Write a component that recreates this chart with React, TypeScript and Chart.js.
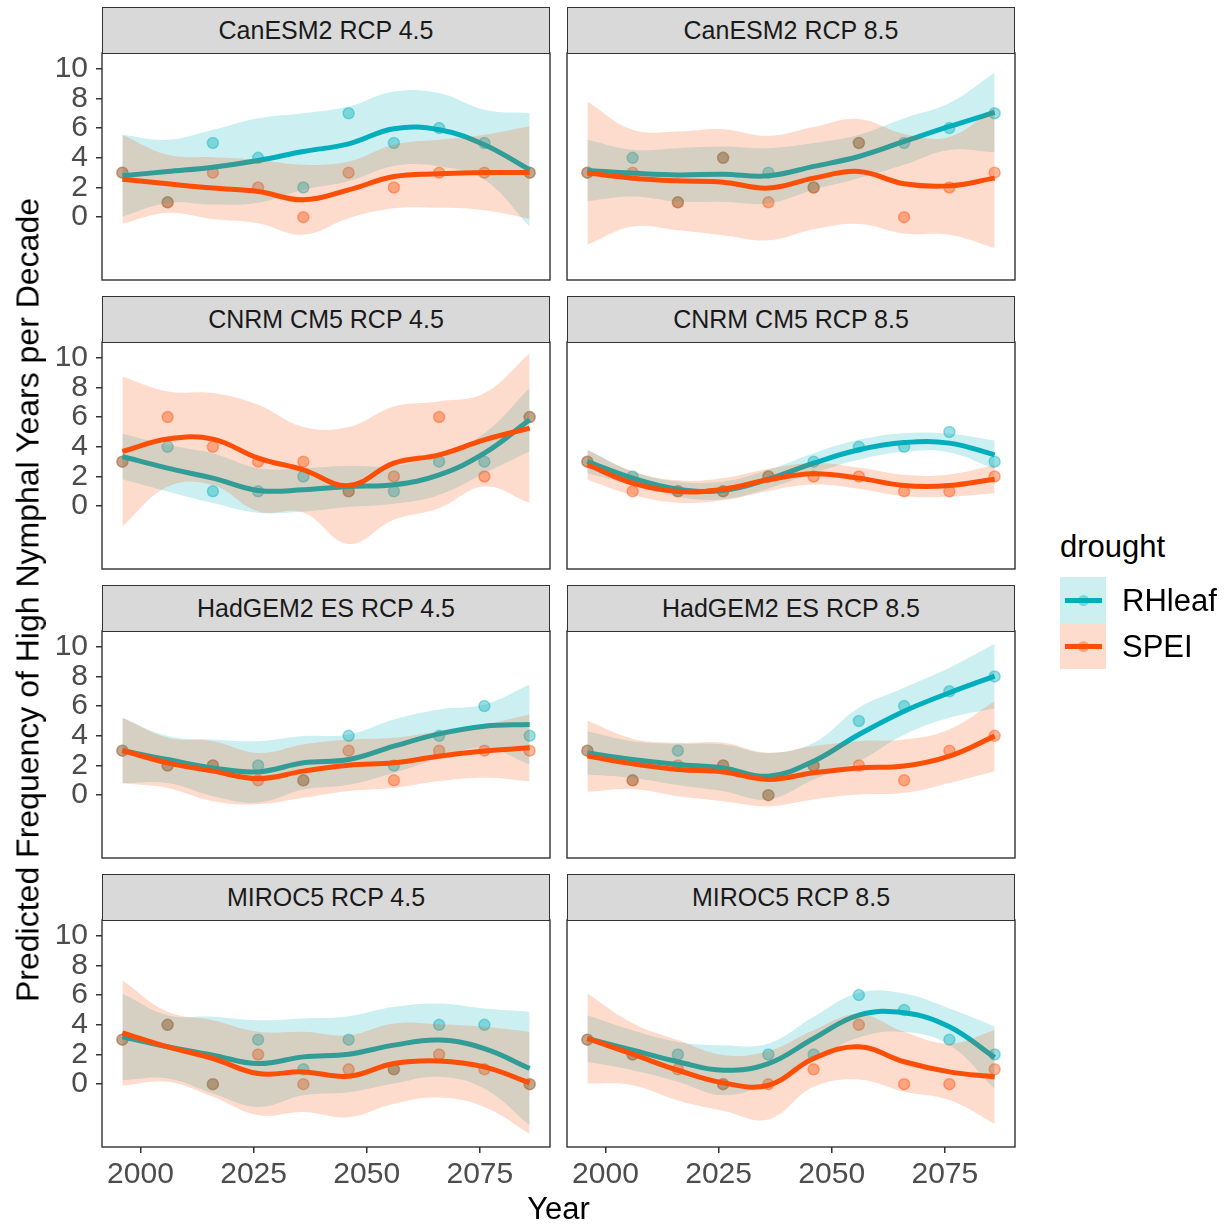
import React, { useEffect, useRef } from "react";
import { Chart, registerables } from "chart.js";

Chart.register(...registerables);

const FONT = '"Liberation Sans", Arial, Helvetica, sans-serif';

// Decade midpoints
const years = [1996, 2006, 2016, 2026, 2036, 2046, 2056, 2066, 2076, 2086];
const xTicks = [2000, 2025, 2050, 2075];
const yTicks = [0, 2, 4, 6, 8, 10];
const xLimits = [1991.5, 2090.5];
const yLimits = [-4.23, 11.06];

const panelTitles = [
  "CanESM2 RCP 4.5",
  "CanESM2 RCP 8.5",
  "CNRM CM5 RCP 4.5",
  "CNRM CM5 RCP 8.5",
  "HadGEM2 ES RCP 4.5",
  "HadGEM2 ES RCP 8.5",
  "MIROC5 RCP 4.5",
  "MIROC5 RCP 8.5",
];
const seriesNames = ["RHleaf", "SPEI"];
const seriesColors = ["#00AFBB", "#FC4E07"];

// Observed high nymphal years per decade, one row per panel
const rhPoints = [
  [3, 1, 5, 4, 2, 7, 5, 6, 5, 3],
  [3, 4, 1, 4, 3, 2, 5, 5, 6, 7],
  [3, 4, 1, 1, 2, 1, 1, 3, 3, 6],
  [3, 2, 1, 1, 2, 3, 4, 4, 5, 3],
  [3, 2, 2, 2, 1, 4, 2, 4, 6, 4],
  [3, 1, 3, 2, 0, 2, 5, 6, 7, 8],
  [3, 4, 0, 3, 1, 3, 1, 4, 4, 0],
  [3, 2, 2, 0, 2, 2, 6, 5, 3, 2],
];
const speiPoints = [
  [3, 1, 3, 2, 0, 3, 2, 3, 3, 3],
  [3, 3, 1, 4, 1, 2, 5, 0, 2, 3],
  [3, 6, 4, 3, 3, 1, 2, 6, 2, 6],
  [3, 1, 1, 1, 2, 2, 2, 1, 1, 2],
  [3, 2, 2, 1, 1, 3, 1, 3, 3, 3],
  [3, 1, 2, 2, 0, 2, 2, 1, 3, 4],
  [3, 4, 0, 2, 0, 1, 1, 2, 1, 0],
  [3, 2, 1, 0, 0, 1, 4, 0, 0, 1],
];

// Smoothed fits and confidence bands
const rhFit = [
  [2.79, 3.08, 3.37, 3.82, 4.43, 4.94, 5.96, 5.89, 4.88, 3.19],
  [3.15, 2.97, 2.85, 2.9, 2.79, 3.42, 4.09, 5.1, 6.11, 7.06],
  [3.35, 2.56, 1.89, 1.06, 1.1, 1.33, 1.44, 2.11, 3.57, 5.82],
  [3.01, 1.89, 1.15, 1.06, 1.82, 2.9, 3.8, 4.29, 4.25, 3.46],
  [3.01, 2.4, 1.84, 1.57, 2.18, 2.4, 3.3, 4.13, 4.65, 4.76],
  [2.85, 2.4, 2.07, 1.84, 1.28, 2.29, 4.09, 5.66, 6.9, 8.02],
  [3.19, 2.52, 1.96, 1.39, 1.84, 2.02, 2.63, 2.97, 2.4, 1.06],
  [3.08, 2.29, 1.51, 0.94, 1.39, 3.08, 4.65, 4.81, 3.87, 1.8],
];
const rhLower = [
  [0.03, 0.95, 0.85, 0.97, 1.85, 2.42, 3.45, 3.42, 2.52, -0.63],
  [1.09, 1.4, 1.05, 1.04, 0.93, 1.85, 2.63, 3.53, 4.53, 4.37],
  [1.82, 0.99, 0.21, -0.44, -0.36, -0.06, 0.16, 0.76, 2.22, 3.68],
  [2.22, 1.44, 0.64, 0.46, 1.19, 2.23, 3.13, 3.66, 3.62, 2.49],
  [0.81, 0.82, -0.07, -0.5, 0.38, 0.71, 1.5, 2.48, 3.19, 2.06],
  [1.39, 1.16, 0.68, 0.26, -0.29, 1.05, 2.29, 4.08, 5.22, 5.84],
  [0.27, 0.39, -0.62, -1.53, -0.75, -0.54, 0.05, 0.5, -0.3, -2.76],
  [1.51, 0.94, 0.17, -0.75, 0.04, 1.62, 3.14, 3.51, 2.64, -0.31],
];
const rhUpper = [
  [5.55, 5.21, 5.89, 6.67, 7.01, 7.46, 8.47, 8.36, 7.24, 7.01],
  [5.21, 4.54, 4.65, 4.76, 4.65, 4.99, 5.55, 6.67, 7.69, 9.75],
  [4.88, 4.13, 3.57, 2.56, 2.56, 2.72, 2.72, 3.46, 4.92, 7.96],
  [3.8, 2.34, 1.66, 1.66, 2.45, 3.57, 4.47, 4.92, 4.88, 4.43],
  [5.21, 3.98, 3.75, 3.64, 3.98, 4.09, 5.1, 5.78, 6.11, 7.46],
  [4.31, 3.64, 3.46, 3.42, 2.85, 3.53, 5.89, 7.24, 8.58, 10.2],
  [6.11, 4.65, 4.54, 4.31, 4.43, 4.58, 5.21, 5.44, 5.1, 4.88],
  [4.65, 3.64, 2.85, 2.63, 2.74, 4.54, 6.16, 6.11, 5.1, 3.91],
];
const speiFit = [
  [2.56, 2.25, 1.96, 1.73, 1.17, 1.84, 2.74, 2.92, 3.01, 3.01],
  [2.97, 2.63, 2.45, 2.36, 1.96, 2.63, 3.08, 2.25, 2.11, 2.63],
  [3.69, 4.52, 4.52, 3.24, 2.45, 1.39, 2.9, 3.46, 4.47, 5.26],
  [2.79, 1.55, 0.99, 1.15, 1.78, 2.18, 1.89, 1.39, 1.39, 1.82],
  [3.01, 2.18, 1.62, 1.12, 1.62, 2.02, 2.18, 2.63, 2.97, 3.19],
  [2.63, 2.11, 1.73, 1.57, 1.06, 1.51, 1.84, 1.96, 2.63, 3.98],
  [3.46, 2.52, 1.73, 0.72, 0.83, 0.54, 1.39, 1.57, 1.17, 0.09],
  [3.08, 2.02, 0.94, 0.09, -0.07, 1.73, 2.52, 1.51, 0.83, 0.49],
];
const speiLower = [
  [-0.43, 0.3, -0.12, -0.41, -1.19, -0.07, 0.6, 0.63, 0.47, -0.1],
  [-1.86, -0.63, -0.88, -1.21, -1.56, -0.81, -0.45, -1.1, -1.19, -2.09],
  [-1.36, 1.31, 1.42, -0.35, -0.43, -2.55, -0.92, -0.14, 1.32, 0.21],
  [1.79, 0.75, 0.24, 0.4, 1.03, 1.46, 1.17, 0.67, 0.64, 0.87],
  [0.81, 0.49, -0.4, -0.61, -0.18, 0.29, 0.49, 0.95, 1.18, 0.94],
  [0.23, 0.41, -0.07, -0.4, -0.74, -0.29, 0.04, 0.16, 0.83, 1.62],
  [-0.09, 0.16, -0.85, -2.09, -1.87, -2.22, -1.31, -0.9, -1.53, -3.35],
  [0.05, -0.07, -1.09, -1.78, -2.37, -0.18, 0.32, -0.51, -1.07, -2.66],
];
const speiUpper = [
  [5.55, 4.2, 4.04, 3.87, 3.53, 3.75, 4.88, 5.21, 5.55, 6.12],
  [7.8, 5.89, 5.78, 5.93, 5.48, 6.07, 6.61, 5.6, 5.41, 7.35],
  [8.74, 7.73, 7.62, 6.83, 5.33, 5.33, 6.72, 7.06, 7.62, 10.31],
  [3.79, 2.35, 1.74, 1.9, 2.53, 2.9, 2.61, 2.11, 2.14, 2.77],
  [5.21, 3.87, 3.64, 2.85, 3.42, 3.75, 3.87, 4.31, 4.76, 5.44],
  [5.03, 3.81, 3.53, 3.54, 2.86, 3.31, 3.64, 3.76, 4.43, 6.34],
  [7.01, 4.88, 4.31, 3.53, 3.53, 3.3, 4.09, 4.04, 3.87, 3.53],
  [6.11, 4.11, 2.97, 1.96, 2.23, 3.64, 4.72, 3.53, 2.73, 3.64],
];

// Layout of the facet grid (page pixels)
const PANEL_W = 448;
const PANEL_H = 227;
const STRIP_H = 46;
const COL_X = [102, 567];
const ROW_TOP = [53, 342, 631, 920];
const Y_AXIS_W = 60;
const X_AXIS_H = 52;
const EDGE = 3;

const rgba = (hex: string, a: number) => {
  const n = parseInt(hex.slice(1), 16);
  return `rgba(${(n >> 16) & 255},${(n >> 8) & 255},${n & 255},${a})`;
};

const toXY = (ys: number[]) => ys.map((y, i) => ({ x: years[i], y }));

const framePlugin = {
  id: "panelFrame",
  afterDraw(chart: any) {
    const { ctx, chartArea: a } = chart;
    ctx.save();
    ctx.strokeStyle = "#333333";
    ctx.lineWidth = 1.4;
    ctx.strokeRect(a.left, a.top, a.right - a.left, a.bottom - a.top);
    ctx.restore();
  },
};

function buildDatasets(p: number) {
  const [rhCol, spCol] = seriesColors;
  const pointSet = (vals: number[], color: string, order: number) => ({
    label: "points",
    data: toXY(vals),
    showLine: false,
    pointRadius: 5.5,
    pointBorderWidth: 1.5,
    pointBackgroundColor: rgba(color, 0.4),
    pointBorderColor: rgba(color, 0.4),
    order,
  });
  const band = (lo: number[], hi: number[], color: string, order: number) => [
    {
      label: "lower",
      data: toXY(lo),
      borderColor: "rgba(0,0,0,0)",
      pointRadius: 0,
      fill: false,
      tension: 0.4,
      order,
    },
    {
      label: "upper",
      data: toXY(hi),
      borderColor: "rgba(0,0,0,0)",
      backgroundColor: rgba(color, 0.2),
      pointRadius: 0,
      fill: "-1",
      tension: 0.4,
      order,
    },
  ];
  const fitLine = (vals: number[], color: string, order: number) => ({
    label: "fit",
    data: toXY(vals),
    borderColor: color,
    borderWidth: 5,
    pointRadius: 0,
    fill: false,
    tension: 0.4,
    order,
  });
  return [
    pointSet(rhPoints[p], rhCol, 10),
    pointSet(speiPoints[p], spCol, 9),
    ...band(rhLower[p], rhUpper[p], rhCol, 7),
    fitLine(rhFit[p], rhCol, 6),
    ...band(speiLower[p], speiUpper[p], spCol, 4),
    fitLine(speiFit[p], spCol, 3),
  ];
}

function Panel({ index }: { index: number }) {
  const ref = useRef<HTMLCanvasElement | null>(null);
  const col = index % 2;
  const row = Math.floor(index / 2);
  const showY = col === 0;
  const showX = row === ROW_TOP.length - 1;
  const left = COL_X[col] - (showY ? Y_AXIS_W : EDGE);
  const top = ROW_TOP[row] - EDGE;
  const width = PANEL_W + EDGE + (showY ? Y_AXIS_W : EDGE);
  const height = PANEL_H + EDGE + (showX ? X_AXIS_H : EDGE);

  useEffect(() => {
    if (!ref.current) return;
    const tickFont = { family: FONT, size: 30 };
    const zeroPad = (s: any) => {
      s.paddingLeft = 0;
      s.paddingRight = 0;
      s.paddingTop = 0;
      s.paddingBottom = 0;
    };
    const chart = new Chart(ref.current, {
      type: "line",
      data: { datasets: buildDatasets(index) as any },
      options: {
        responsive: false,
        animation: false,
        events: [],
        layout: {
          autoPadding: false,
          padding: {
            left: showY ? 0 : EDGE,
            right: EDGE,
            top: EDGE,
            bottom: showX ? 0 : EDGE,
          },
        },
        plugins: {
          legend: { display: false },
          tooltip: { enabled: false },
        },
        scales: {
          x: {
            type: "linear",
            min: xLimits[0],
            max: xLimits[1],
            display: showX,
            afterBuildTicks: (s: any) => {
              s.ticks = xTicks.map((v) => ({ value: v }));
            },
            afterFit: (s: any) => {
              s.height = showX ? X_AXIS_H : 0;
              zeroPad(s);
            },
            grid: {
              drawOnChartArea: false,
              drawTicks: true,
              tickLength: 6,
              color: "#333333",
              lineWidth: 1.5,
            },
            border: { display: false },
            ticks: {
              color: "#4D4D4D",
              font: tickFont,
              padding: 4,
              maxRotation: 0,
              autoSkip: false,
              callback: (v: any) => String(v),
            },
          },
          y: {
            type: "linear",
            min: yLimits[0],
            max: yLimits[1],
            display: showY,
            afterBuildTicks: (s: any) => {
              s.ticks = yTicks.map((v) => ({ value: v }));
            },
            afterFit: (s: any) => {
              s.width = showY ? Y_AXIS_W : 0;
              zeroPad(s);
            },
            grid: {
              drawOnChartArea: false,
              drawTicks: true,
              tickLength: 6,
              color: "#333333",
              lineWidth: 1.5,
            },
            border: { display: false },
            ticks: {
              color: "#4D4D4D",
              font: tickFont,
              padding: 8,
              autoSkip: false,
              callback: (v: any) => String(v),
            },
          },
        },
      } as any,
      plugins: [framePlugin],
    });
    return () => chart.destroy();
  }, [index]);

  return (
    <>
      <canvas
        ref={ref}
        width={width}
        height={height}
        style={{ position: "absolute", left, top, width, height, display: "block" }}
      />
      <div
        style={{
          position: "absolute",
          left: COL_X[col],
          top: ROW_TOP[row] - STRIP_H,
          width: PANEL_W,
          height: STRIP_H + 1,
          boxSizing: "border-box",
          background: "#D9D9D9",
          border: "1px solid #333333",
          display: "flex",
          alignItems: "center",
          justifyContent: "center",
          fontFamily: FONT,
          fontSize: 25,
          color: "#1A1A1A",
          whiteSpace: "nowrap",
        }}
      >
        {panelTitles[index]}
      </div>
    </>
  );
}

function LegendKey({ color, top }: { color: string; top: number }) {
  return (
    <div
      style={{
        position: "absolute",
        left: 1060,
        top,
        width: 46,
        height: 46,
        background: rgba(color, 0.2),
      }}
    >
      <div
        style={{
          position: "absolute",
          left: 17.5,
          top: 17.5,
          width: 11,
          height: 11,
          borderRadius: "50%",
          background: rgba(color, 0.4),
        }}
      />
      <div
        style={{
          position: "absolute",
          left: 5,
          top: 20.5,
          width: 37,
          height: 5,
          background: color,
        }}
      />
    </div>
  );
}

export default function App() {
  const text = (extra: React.CSSProperties): React.CSSProperties => ({
    position: "absolute",
    fontFamily: FONT,
    fontSize: 31,
    lineHeight: "31px",
    color: "#000000",
    whiteSpace: "nowrap",
    ...extra,
  });
  return (
    <div
      style={{
        position: "absolute",
        left: 0,
        top: 0,
        width: 1232,
        height: 1228,
        background: "#FFFFFF",
        overflow: "hidden",
      }}
    >
      {panelTitles.map((_, i) => (
        <Panel key={i} index={i} />
      ))}
      <div
        style={text({
          left: 28,
          top: 600,
          fontSize: 32,
          transform: "translate(-50%, -50%) rotate(-90deg)",
        })}
      >
        Predicted Frequency of High Nymphal Years per Decade
      </div>
      <div style={text({ left: 558.5, top: 1193, transform: "translateX(-50%)" })}>Year</div>
      <div style={text({ left: 1060, top: 531 })}>drought</div>
      <LegendKey color={seriesColors[0]} top={577} />
      <LegendKey color={seriesColors[1]} top={623} />
      <div style={text({ left: 1122, top: 585 })}>{seriesNames[0]}</div>
      <div style={text({ left: 1122, top: 631 })}>{seriesNames[1]}</div>
    </div>
  );
}
